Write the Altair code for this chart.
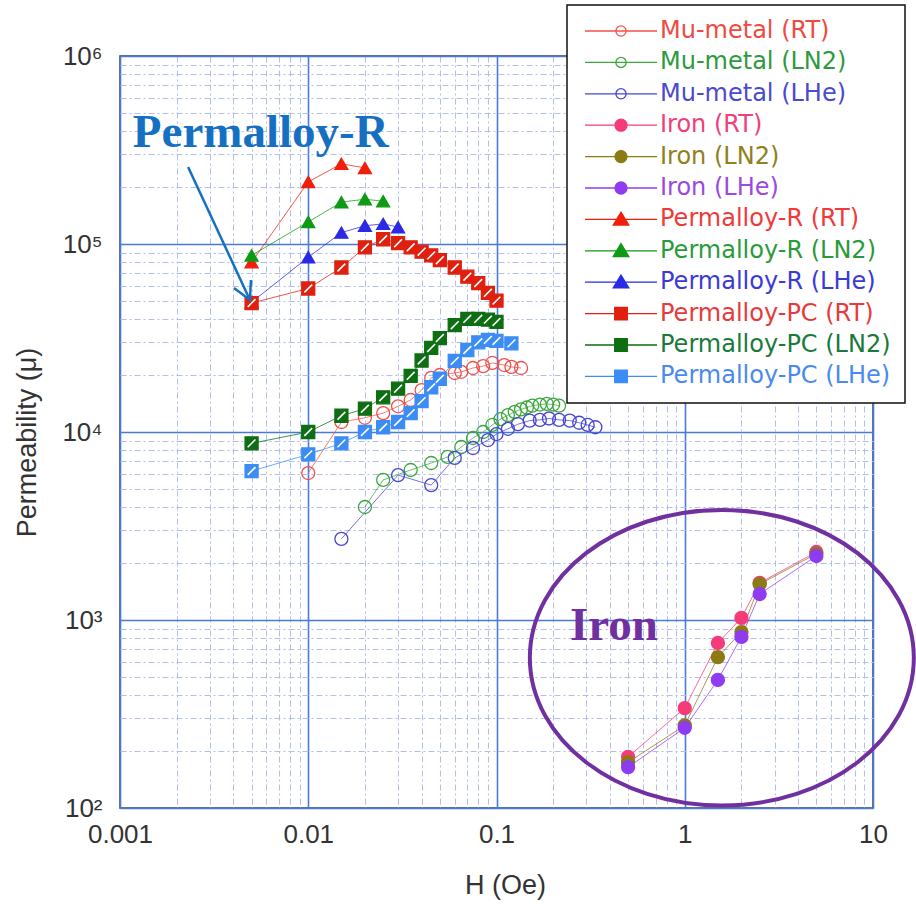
import altair as alt
import pandas as pd

series_names = [
    "Mu-metal (RT)", "Mu-metal (LN2)", "Mu-metal (LHe)",
    "Iron (RT)", "Iron (LN2)", "Iron (LHe)",
    "Permalloy-R (RT)", "Permalloy-R (LN2)", "Permalloy-R (LHe)",
    "Permalloy-PC (RT)", "Permalloy-PC (LN2)", "Permalloy-PC (LHe)",
]

# ---- data: H (Oe) and permeability ----
mu_rt_h = [0.01, 0.015, 0.02, 0.025, 0.03, 0.035, 0.04, 0.045, 0.05, 0.06, 0.065,
           0.075, 0.085, 0.095, 0.11, 0.12, 0.135]
mu_rt_v = [6050, 11300, 11900, 12600, 13700, 14800, 16700, 19400, 20100, 20600, 20900,
           21900, 22400, 23300, 22700, 22200, 21900]

mu_ln2_h = [0.02, 0.025, 0.035, 0.045, 0.055, 0.065, 0.075, 0.085, 0.095, 0.105, 0.115,
            0.125, 0.135, 0.145, 0.155, 0.17, 0.185, 0.2, 0.215]
mu_ln2_v = [3990, 5560, 6280, 6840, 7370, 8320, 9290, 10000, 10900, 11700, 12300,
            12800, 13200, 13500, 13800, 14000, 14100, 14000, 13800]

mu_lhe_h = [0.015, 0.03, 0.045, 0.06, 0.075, 0.09, 0.1, 0.115, 0.13, 0.15, 0.17,
            0.19, 0.215, 0.245, 0.275, 0.305, 0.335]
mu_lhe_v = [2700, 5900, 5220, 7280, 8220, 9060, 9750, 10400, 11000, 11500, 11600,
            11800, 11600, 11500, 11200, 10900, 10600]

iron_h = [0.5, 1, 1.5, 2, 2.5, 5]
iron_rt_v = [187, 340, 755, 1026, 1575, 2300]
iron_ln2_v = [175, 275, 635, 863, 1550, 2250]
iron_lhe_v = [165, 267, 480, 813, 1375, 2190]

pr_rt_h = [0.005, 0.01, 0.015, 0.02]
pr_rt_v = [80000, 214000, 267000, 254000]
pr_ln2_h = [0.005, 0.01, 0.015, 0.02, 0.025]
pr_ln2_v = [87000, 131000, 167000, 173000, 169000]
pr_lhe_h = [0.005, 0.01, 0.015, 0.02, 0.025, 0.03]
pr_lhe_v = [49000, 85000, 115000, 125000, 128000, 123000]

pc_h = [0.005, 0.01, 0.015, 0.02, 0.025, 0.03, 0.035, 0.04, 0.045, 0.05,
        0.06, 0.07, 0.08, 0.09, 0.1]
pc_rt_v = [48500, 58000, 75000, 96000, 106000, 101000, 96000, 91000, 87000, 82000,
           75000, 67000, 62000, 55000, 50000]
pc_ln2_v = [8700, 10000, 12200, 13300, 15300, 17000, 19900, 24000, 28000, 31600,
            37000, 40000, 40000, 39600, 38500]
pc_lhe_h = [0.005, 0.01, 0.015, 0.02, 0.025, 0.03, 0.035, 0.04, 0.045, 0.05,
            0.06, 0.07, 0.08, 0.09, 0.1, 0.12]
pc_lhe_v = [6200, 7600, 8700, 10000, 10600, 11300, 12600, 14600, 17300, 19200,
            23900, 27300, 30000, 30900, 30500, 29600]

h_lists = [mu_rt_h, mu_ln2_h, mu_lhe_h, iron_h, iron_h, iron_h,
           pr_rt_h, pr_ln2_h, pr_lhe_h, pc_h, pc_h, pc_lhe_h]
v_lists = [mu_rt_v, mu_ln2_v, mu_lhe_v, iron_rt_v, iron_ln2_v, iron_lhe_v,
           pr_rt_v, pr_ln2_v, pr_lhe_v, pc_rt_v, pc_ln2_v, pc_lhe_v]

x_ticks = [0.001, 0.002, 0.003, 0.004, 0.005, 0.006, 0.007, 0.008, 0.009,
           0.01, 0.02, 0.03, 0.04, 0.05, 0.06, 0.07, 0.08, 0.09,
           0.1, 0.2, 0.3, 0.4, 0.5, 0.6, 0.7, 0.8, 0.9,
           1, 2, 3, 4, 5, 6, 7, 8, 9, 10]
y_ticks = [100, 200, 300, 400, 500, 600, 700, 800, 900,
           1000, 2000, 3000, 4000, 5000, 6000, 7000, 8000, 9000,
           10000, 20000, 30000, 40000, 50000, 60000, 70000, 80000, 90000,
           100000, 200000, 300000, 400000, 500000, 600000, 700000, 800000, 900000,
           1000000]

rows = []
for name, hs, vs in zip(series_names, h_lists, v_lists):
    for h, v in zip(hs, vs):
        rows.append({"series": name, "H": h, "mu": v})
df = pd.DataFrame(rows)

# annotations (data-space anchors)
label_pr = pd.DataFrame({"H": [0.00117], "mu": [328000], "text": ["Permalloy-R"]})
label_iron = pd.DataFrame({"H": [0.2455], "mu": [783], "text": ["Iron"]})
arrow_df = pd.DataFrame({"H": [0.0023], "mu": [257000], "H2": [0.0049], "mu2": [50400]})
ellipse_df = pd.DataFrame({"H": [1.574], "mu": [630]})

# ---- styles ----
stroke_colors = ["#f2504a", "#3ca83c", "#4646d2",
                 "#f53c78", "#8c7a12", "#8f3cf0",
                 "#f01e0a", "#0f9a14", "#2a2ae6",
                 "#e0200e", "#0d6e12", "#3c8cf5"]
fill_colors = ["transparent", "transparent", "transparent",
               "#f53c78", "#8c7a12", "#8f3cf0",
               "#f01e0a", "#0f9a14", "#2a2ae6",
               "#e0200e", "#0d6e12", "#3c8cf5"]
label_colors = ["#f04a40", "#2e9a3e", "#4a4ad0",
                "#f0407a", "#8f8020", "#9a4ae0",
                "#f03a3a", "#2a9a3a", "#3a3ad8",
                "#e83a3a", "#1a7a3a", "#4a8af0"]
shapes = ["circle"] * 6 + ["triangle-up"] * 3 + ["square"] * 3
sizes = [169] * 6 + [225] * 3 + [169] * 3

circ_open = "M -6 0 L 6 0 M -0.85 0 A 0.85 0.85 0 1 0 0.85 0 A 0.85 0.85 0 1 0 -0.85 0 Z"
circ_fill = "M -6 0 L 6 0 M -1 0 A 1 1 0 1 0 1 0 A 1 1 0 1 0 -1 0 Z"
tri = "M -6 0 L 6 0 M 0 -1.2 L 1.3 0.95 L -1.3 0.95 Z"
sq = "M -6 0 L 6 0 M -1.05 -1.05 L 1.05 -1.05 L 1.05 1.05 L -1.05 1.05 Z"
legend_shapes = [circ_open] * 3 + [circ_fill] * 3 + [tri] * 3 + [sq] * 3

major = "abs(log(datum.value)/LN10 - round(log(datum.value)/LN10)) < 0.01"
sup = "['⁰','¹','²','³','⁴','⁵','⁶']"

grid_color = alt.condition(major, alt.value("#4a7ad8"), alt.value("#b0bfea"))
grid_dash = alt.condition(major, alt.value([]), alt.value([6, 3, 2, 3]))
grid_width = alt.condition(major, alt.value(1.6), alt.value(1))

xscale = alt.Scale(type="log", domain=[0.001, 10], nice=False)
yscale = alt.Scale(type="log", domain=[100, 1000000], nice=False)

xaxis = alt.Axis(values=x_ticks, labelExpr=f"({major}) ? '' + datum.value : ''",
                 grid=True, gridColor=grid_color, gridDash=grid_dash, gridWidth=grid_width,
                 ticks=False, domain=False, labelPadding=13, labelOverlap=False,
                 labelFlush=False, labelBound=False,
                 titleX=385, titleY=77, titleBaseline="middle")
yaxis = alt.Axis(values=y_ticks,
                 labelExpr=f"({major}) ? '10' + {sup}[round(log(datum.value)/LN10)] : ''",
                 grid=True, gridColor=grid_color, gridDash=grid_dash, gridWidth=grid_width,
                 ticks=False, domain=False, labelPadding=18, labelOverlap=False,
                 labelFlush=False, labelBound=False,
                 titleX=-93, titleY=386, titleBaseline="middle", titleAlign="center")

X = alt.X("H:Q", scale=xscale, axis=xaxis, title="H (Oe)")
Y = alt.Y("mu:Q", scale=yscale, axis=yaxis, title="Permeability (μ)")

stroke_scale = alt.Scale(domain=series_names, range=stroke_colors)
fill_scale = alt.Scale(domain=series_names, range=fill_colors)

lines = alt.Chart(df).mark_line(strokeWidth=1, opacity=0.75).encode(
    x=X, y=Y,
    stroke=alt.Stroke("series:N", scale=stroke_scale, legend=None),
)
points = alt.Chart(df).mark_point(filled=True, opacity=1, strokeWidth=1.3).encode(
    x=X, y=Y,
    stroke=alt.Stroke("series:N", scale=stroke_scale, legend=None),
    fill=alt.Fill("series:N", scale=fill_scale, legend=None),
    shape=alt.Shape("series:N", scale=alt.Scale(domain=series_names, range=shapes), legend=None),
    size=alt.Size("series:N", scale=alt.Scale(domain=series_names, range=sizes), legend=None),
)
pc_marks = alt.Chart(df).transform_filter(
    "indexof(datum.series, 'Permalloy-PC') == 0"
).mark_point(shape="M -0.6 0.6 L 0.6 -0.6", size=169, filled=False, opacity=1,
             stroke="white", strokeWidth=1.6).encode(x=X, y=Y)

data_layer = alt.layer(lines, points, pc_marks)

leg = alt.Legend(title=None, orient="none", legendX=447, legendY=-51,
                 padding=14, rowPadding=7.4, symbolOffset=28, labelOffset=27,
                 symbolSize=144, symbolStrokeWidth=1.3, labelLimit=400,
                 labelFont="DejaVu Sans", labelFontSize=24,
                 labelColor={"expr": "[" + ",".join(f"'{c}'" for c in label_colors) + "][indexof(["
                             + ",".join(f"'{n}'" for n in series_names) + "], datum.label)]"},
                 strokeColor="#111111", fillColor="white")

legend_layer = alt.Chart(df).transform_filter("false").mark_point(
    filled=True, opacity=1, strokeWidth=1.3, size=144
).encode(
    x=X, y=Y,
    stroke=alt.Stroke("series:N", scale=alt.Scale(domain=series_names, range=stroke_colors), legend=leg),
    fill=alt.Fill("series:N", scale=alt.Scale(domain=series_names, range=fill_colors), legend=leg),
    shape=alt.Shape("series:N", scale=alt.Scale(domain=series_names, range=legend_shapes), legend=leg),
)

text_pr = alt.Chart(label_pr).mark_text(
    font="Liberation Serif", fontWeight="bold", fontSize=47, color="#1670c2",
    align="left", baseline="alphabetic"
).encode(x=X, y=Y, text="text:N")
text_iron = alt.Chart(label_iron).mark_text(
    font="Liberation Serif", fontWeight="bold", fontSize=47, color="#7030a0",
    align="left", baseline="alphabetic"
).encode(x=X, y=Y, text="text:N")
arrow_shaft = alt.Chart(arrow_df).mark_rule(color="#1670c2", strokeWidth=2.5).encode(
    x=X, y=Y, x2="H2:Q", y2="mu2:Q")
arrow_head = alt.Chart(arrow_df).mark_point(
    shape="M -0.53 -1 L 0 0 L 0.53 -1", size=1250, angle=335, filled=False,
    opacity=1, stroke="#1670c2", strokeWidth=2.5
).encode(x=alt.X("H2:Q", scale=xscale, axis=xaxis, title="H (Oe)"),
         y=alt.Y("mu2:Q", scale=yscale, axis=yaxis, title="Permeability (μ)"))
ellipse = alt.Chart(ellipse_df).mark_point(
    shape="M -1 0 A 1 0.77 0 1 1 1 0 A 1 0.77 0 1 1 -1 0 Z", size=147456,
    filled=False, opacity=1, stroke="#7030a0", strokeWidth=4
).encode(x=X, y=Y)

chart = alt.layer(
    data_layer, legend_layer, text_pr, arrow_shaft, arrow_head, text_iron, ellipse
).resolve_scale(
    stroke="independent", fill="independent", shape="independent", size="independent"
).properties(
    width=753, height=752,
    autosize=alt.AutoSizeParams(type="none"),
    padding={"left": 120, "top": 56, "right": 43, "bottom": 96},
).configure_view(
    stroke="#3c3c64", strokeWidth=1.5
).configure_axis(
    labelFont="Liberation Sans", labelFontSize=26, labelColor="#333333",
    titleFont="Liberation Sans", titleFontSize=27, titleColor="#333333",
    titleFontWeight="normal", gridOpacity=1
).configure_legend(
    strokeWidth=1.5
)

chart.save("out.html", embed_options={"renderer": "svg", "actions": False})
